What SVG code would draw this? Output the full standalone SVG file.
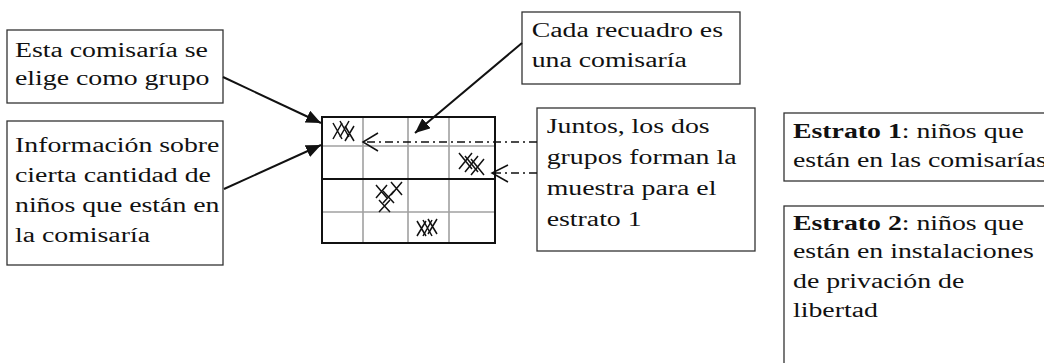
<svg xmlns="http://www.w3.org/2000/svg" width="1044" height="363" viewBox="0 0 1044 363">
<style>
.box{fill:#fff;stroke:#333;stroke-width:1.3}
.t{font-family:"Liberation Serif","Times New Roman",serif;font-size:20px;fill:#111}
.b{font-weight:bold}
.gridg{stroke:#a0a0a0;stroke-width:1.6;fill:none}
.gridk{stroke:#111;stroke-width:2;fill:none}
.xm{stroke:#111;stroke-width:1.5;fill:none}
.arr{stroke:#111;stroke-width:2;fill:none}
.dd{stroke:#111;stroke-width:1.3;fill:none;stroke-dasharray:8 4 2 4}
.oh{stroke:#111;stroke-width:1.5;fill:none}
</style>
<defs>
<marker id="ah" markerUnits="userSpaceOnUse" markerWidth="18" markerHeight="14" refX="15" refY="6.5" orient="auto">
<path d="M0,0 L15,6.5 L0,13 Z" fill="#111"/>
</marker>
</defs>

<g id="grid">
<line class="gridg" x1="322" y1="146" x2="495" y2="146"/>
<line class="gridg" x1="322" y1="212" x2="495" y2="212"/>
<line class="gridg" x1="363" y1="117" x2="363" y2="243"/>
<line class="gridg" x1="408" y1="117" x2="408" y2="243"/>
<line class="gridg" x1="449" y1="117" x2="449" y2="243"/>
<rect class="gridk" x="322" y="117" width="173" height="126"/>
<line class="gridk" x1="322" y1="179" x2="495" y2="179"/>
</g>

<g id="marks" class="xm">
<path d="M333,123 L342,139 M342,123 L333,139"/>
<path d="M340,121 L349,137 M349,121 L340,137"/>
<path d="M345,126 L354,141 M354,126 L345,141"/>
<path d="M459,153 L472,169 M472,153 L459,169"/>
<path d="M465,156 L478,172 M478,156 L465,172"/>
<path d="M471,159 L484,175 M484,159 L471,175"/>
<path d="M376,185 L387,198 M387,185 L376,198"/>
<path d="M391,182 L402,195 M402,182 L391,195"/>
<path d="M383,191 L394,203 M394,191 L383,203"/>
<path d="M379,200 L390,212 M390,200 L379,212"/>
<path d="M417,221 L426,236 M426,221 L417,236"/>
<path d="M423,220 L432,236 M432,220 L423,236"/>
<path d="M428,219 L437,234 M437,219 L428,234"/>
</g>

<g id="boxA">
<rect class="box" x="7" y="30" width="216" height="73"/>
<text class="t" transform="translate(15,0) scale(1.39,1)"><tspan x="0" y="56.7">Esta comisaría se</tspan><tspan x="0" y="85">elige como grupo</tspan></text>
</g>

<g id="boxB">
<rect class="box" x="7" y="121" width="216" height="144"/>
<text class="t" transform="translate(15,0) scale(1.39,1)"><tspan x="0" y="151.7">Información sobre</tspan><tspan x="0" y="181.7">cierta cantidad de</tspan><tspan x="0" y="211.7">niños que están en</tspan><tspan x="0" y="241.7">la comisaría</tspan></text>
</g>

<g id="boxC">
<rect class="box" x="522" y="12" width="218" height="72"/>
<text class="t" transform="translate(531.7,0) scale(1.39,1)"><tspan x="0" y="36.7">Cada recuadro es</tspan><tspan x="0" y="66.7">una comisaría</tspan></text>
</g>

<g id="boxD">
<rect class="box" x="537" y="108" width="218" height="143"/>
<text class="t" transform="translate(546.7,0) scale(1.39,1)"><tspan x="0" y="133">Juntos, los dos</tspan><tspan x="0" y="164">grupos forman la</tspan><tspan x="0" y="195">muestra para el</tspan><tspan x="0" y="226">estrato 1</tspan></text>
</g>

<g id="boxE">
<rect class="box" x="784" y="113" width="270" height="68"/>
<text class="t" transform="translate(793,0) scale(1.39,1)"><tspan x="0" y="138"><tspan class="b">Estrato 1</tspan>: niños que</tspan><tspan x="0" y="167">están en las comisarías</tspan></text>
</g>

<g id="boxF">
<rect class="box" x="784" y="206" width="270" height="170"/>
<text class="t" transform="translate(793,0) scale(1.39,1)"><tspan x="0" y="230"><tspan class="b">Estrato 2</tspan>: niños que</tspan><tspan x="0" y="258">están en instalaciones</tspan><tspan x="0" y="288">de privación de</tspan><tspan x="0" y="317">libertad</tspan></text>
</g>

<g id="connectors">
<line class="arr" x1="223" y1="77" x2="321" y2="123" marker-end="url(#ah)"/>
<line class="arr" x1="224" y1="189" x2="321" y2="145" marker-end="url(#ah)"/>
<line class="arr" x1="522" y1="43" x2="415" y2="133" marker-end="url(#ah)"/>
<line class="dd" x1="537" y1="142" x2="364" y2="142"/>
<path class="oh" d="M378,133 L363,142 L378,151"/>
<line class="dd" x1="537" y1="173" x2="493" y2="173"/>
<path class="oh" d="M508,165 L492,173 L508,182"/>
</g>
</svg>
